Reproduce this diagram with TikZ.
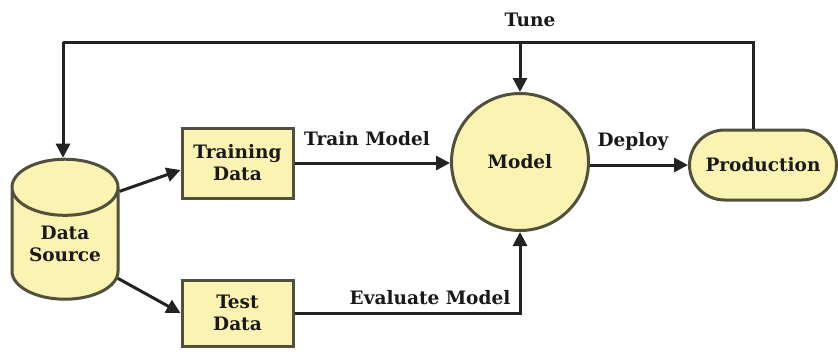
\documentclass[tikz,border=0pt]{standalone}
\usepackage{fontspec}
\setmainfont{DejaVu Serif}
\usetikzlibrary{shapes.geometric,shapes.misc,arrows.meta}
\definecolor{boxfill}{RGB}{250,243,178}
\definecolor{boxline}{RGB}{80,80,60}
\definecolor{lineclr}{RGB}{35,35,35}
\begin{document}
\begin{tikzpicture}[x=1pt,y=-1pt,
  every node/.style={font=\fontsize{18.5}{22}\selectfont\bfseries, text=black!90},
  shapebox/.style={draw=boxline, fill=boxfill, line width=3pt, align=center, inner sep=0pt},
  conn/.style={draw=lineclr, line width=3pt, -{Triangle[length=14pt,width=14pt]}},
  plain/.style={draw=lineclr, line width=3pt},
  lbl/.style={inner sep=1pt}]
\useasboundingbox (0,0) rectangle (838,351);
\node[shapebox, cylinder, shape border rotate=90, aspect=0.78,
      minimum width=106pt, minimum height=140pt] (ds) at (65,244) {Data\\Source};
\node[shapebox, rectangle, minimum width=111pt, minimum height=70pt] (train) at (237.5,163) {Training\\Data};
\node[shapebox, rectangle, minimum width=111pt, minimum height=66pt] (test) at (237.5,313) {Test\\Data};
\node[shapebox, circle, minimum size=137pt] (model) at (520,162) {Model};
\node[shapebox, rounded rectangle, minimum width=147pt, minimum height=70pt] (prod) at (763,165) {Production};
\coordinate (tr) at (753,42);
\coordinate (tl) at (63,42);
\coordinate (tm) at (520,42);
\node[lbl] (tune) at (530,20) {Tune};
\node[lbl] (trainlbl) at (367,139) {Train Model};
\node[lbl] (deploylbl) at (633,142) {Deploy};
\node[lbl] (evallbl) at (430,298) {Evaluate Model};
\draw[plain] (prod.north -| tr) -- (tr) -- (tl);
\draw[conn] (tl) -- (ds.north -| tl);
\draw[conn] (tm) -- (model.north);
\draw[conn] (ds.44) -- (train.187);
\draw[conn] (ds.-33) -- (test.west);
\draw[conn] (train.east) -- (model.west |- train.east);
\draw[conn] (test.east) -| (model.south);
\draw[conn] (model.east |- prod.west) -- (prod.west);
\end{tikzpicture}
\end{document}
